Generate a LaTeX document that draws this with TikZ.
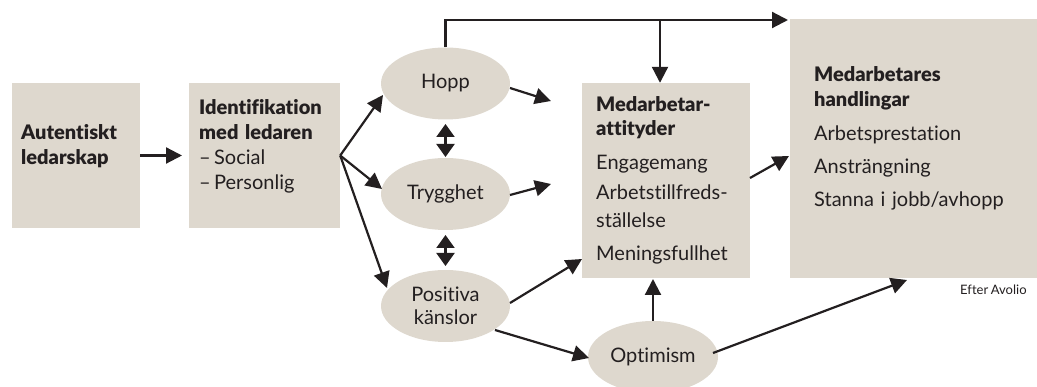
\documentclass[tikz,border=0pt]{standalone}
\usepackage{fontspec}
\setmainfont{Lato}[Ligatures=NoCommon,BoldFont={Lato Black},WordSpace=0.8]
\usetikzlibrary{arrows.meta,shapes.geometric}
\definecolor{boxfill}{RGB}{222,216,206}
\definecolor{ink}{RGB}{35,31,32}
\tikzset{
  box/.style={fill=boxfill,draw=none,inner sep=0pt},
  oval/.style={ellipse,fill=boxfill,draw=none,inner sep=0pt,minimum width=129pt,minimum height=72pt,text=ink,font=\fontsize{20}{24}\selectfont,align=center},
  txt/.style={anchor=base west,inner sep=0pt,text=ink,font=\fontsize{20}{25}\selectfont,align=left,text width=#1},
  conn/.style={draw=ink,line width=2.2pt,-{Triangle[length=16pt,width=16pt]}},
  plain/.style={draw=ink,line width=2.2pt},
  dbl/.style={draw=ink,line width=2.2pt,{Triangle[length=13pt,width=18pt]}-{Triangle[length=13pt,width=18pt]}},
}
\begin{document}
\begin{tikzpicture}[x=1pt,y=-1pt]
\useasboundingbox (0,0) rectangle (1037,387);
\clip (0,0) rectangle (1037,387);
% boxes
\node[box,minimum width=128pt,minimum height=145pt] (b1) at (76,155.5) {};
\node[box,minimum width=151pt,minimum height=145pt] (b2) at (264.5,155.5) {};
\node[box,minimum width=168pt,minimum height=195pt] (b3) at (666,180.5) {};
\node[box,minimum width=247pt,minimum height=259pt] (b4) at (913.5,148.5) {};
% ellipses
\node[oval] (hopp) at (445.5,83.5) {Hopp};
\node[oval] (tryg) at (445.5,194) {Trygghet};
\node[oval] (pos) at (445.5,306) {Positiva\\[-1pt]känslor};
\node[oval,minimum width=130pt] (opt) at (653,357) {Optimism};
% texts
\node[txt=120pt] (t1) at (21,140) {\textbf{Autentiskt}\\\textbf{ledarskap}};
\node[txt=140pt] (t2) at (199,115) {\textbf{Identifikation}\\\textbf{med ledaren}\\–\,Social\\–\,Personlig};
\node[txt=150pt] (t3) at (596,112) {\textbf{Medarbetar-}\\[-1pt]\textbf{attityder}\\[9pt]Engagemang\\[5pt]Arbetstillfreds-\\[2.5pt]ställelse\\[8pt]Meningsfullhet};
\node[txt=220pt] (t4) at (814,81.7) {\textbf{Medarbetares}\\[0.3pt]\textbf{handlingar}\\[8.7pt]Arbetsprestation\\[8.3pt]Ansträngning\\[7.7pt]Stanna i jobb/avhopp};
\node[anchor=base west,inner sep=0pt,text=ink,font=\fontsize{13}{15}\selectfont] (src) at (960,295) {Efter Avolio};
% coordinates
\coordinate (top) at (445.5,20);
\coordinate (branch) at (660,20);
\coordinate (h1) at (551,101);
\coordinate (t1e) at (551,184);
% connectors
\draw[conn] (b1.east) -- (182,155.5);
\draw[conn] (b2.east) -- (383,95);
\draw[conn] (b2.east) -- (382,189);
\draw[conn] (b2.east) -- (387,288);
\draw[plain] (hopp.north) -- (top) -- (branch);
\draw[conn] (branch) -- (788,20);
\draw[conn] (branch) -- (b3.north -| branch);
\draw[dbl] (445.5,124) -- (445.5,157);
\draw[dbl] (445.5,235) -- (445.5,266);
\draw[conn] (510,88) -- (h1);
\draw[conn] (510,195) -- (t1e);
\draw[conn] (510,303) -- (582,259);
\draw[conn] (495,330) -- (589,358);
\draw[conn] (opt.north) -- (653,279);
\draw[conn] (713,353) -- (907,280);
\draw[conn] (750,178) -- (789,156);
\end{tikzpicture}
\end{document}
